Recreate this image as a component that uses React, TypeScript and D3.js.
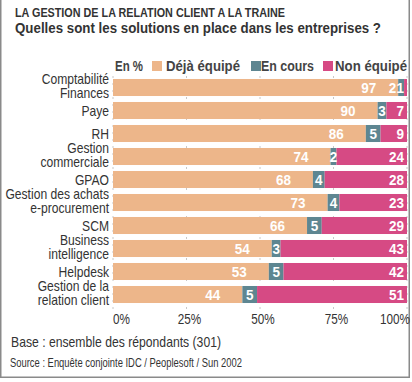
import React from "react";
import * as d3 from "d3";

const categories = [
  "Comptabilité\nFinances",
  "Paye",
  "RH",
  "Gestion\ncommerciale",
  "GPAO",
  "Gestion des achats\ne-procurement",
  "SCM",
  "Business\nintelligence",
  "Helpdesk",
  "Gestion de la\nrelation client",
];
const dejaEquipe = [97, 90, 86, 74, 68, 73, 66, 54, 53, 44];
const enCours = [2, 3, 5, 2, 4, 4, 5, 3, 5, 5];
const nonEquipe = [1, 7, 9, 24, 28, 23, 29, 43, 42, 51];
const tickValues = [0, 25, 50, 75, 100];
const seriesNames = ["Déjà équipé", "En cours", "Non équipé"];
const colors = ["#EDB68A", "#5E8691", "#D64A84"];

const FONT = "'Liberation Sans', Arial, sans-serif";
const W = 412;
const H = 382;

type TP = {
  x: number;
  y: number;
  sx?: number;
  anchor?: "start" | "middle" | "end";
  size?: number;
  bold?: boolean;
  fill?: string;
  children: React.ReactNode;
};
function T({ x, y, sx = 0.865, anchor = "start", size = 14, bold = false, fill = "#333", children }: TP) {
  return (
    <text
      transform={`translate(${x},${y}) scale(${sx},1)`}
      textAnchor={anchor}
      fontSize={size}
      fontWeight={bold ? "bold" : "normal"}
      fill={fill}
    >
      {children}
    </text>
  );
}

export default function App() {
  const x = d3.scaleLinear().domain([0, 100]).range([113, 407]);
  const y = d3
    .scaleBand<number>()
    .domain(d3.range(categories.length))
    .range([76, 306])
    .paddingInner(0.26)
    .paddingOuter(0.13);
  const bh = y.bandwidth();

  const rows = categories.map((c, i) => {
    const vals = [dejaEquipe[i], enCours[i], nonEquipe[i]];
    const segs: { x0: number; x1: number; v: number; k: number }[] = [];
    let acc = 0;
    vals.forEach((v, k) => {
      segs.push({ x0: acc, x1: acc + v, v, k });
      acc += v;
    });
    return { c, i, segs };
  });

  const legend = [
    { sx: 152, tx: 166, w: 74 },
    { sx: 251, tx: 261, w: 53 },
    { sx: 323, tx: 335, w: 72 },
  ];

  return (
    <svg
      width={W}
      height={H}
      style={{ position: "absolute", left: 0, top: 0, background: "#fff" }}
      fontFamily={FONT}
    >
      <rect x={0} y={0} width={W} height={H} fill="#fff" />
      <path d={`M0.75,0 V377.25 H409.25 V0`} fill="none" stroke="#8a8a8a" strokeWidth={1.5} />

      <text x={15} y={17} fontSize={13} fontWeight="bold" fill="#333" textLength={270} lengthAdjust="spacingAndGlyphs">
        LA GESTION DE LA RELATION CLIENT A LA TRAINE
      </text>
      <text x={15} y={33} fontSize={15} fontWeight="bold" fill="#333" textLength={366} lengthAdjust="spacingAndGlyphs">
        Quelles sont les solutions en place dans les entreprises ?
      </text>

      {/* legend */}
      <text x={115} y={71} fontSize={14} fontWeight="bold" fill="#444" textLength={28} lengthAdjust="spacingAndGlyphs">
        En %
      </text>
      {legend.map((p, k) => (
        <g key={k}>
          <rect x={p.sx} y={61} width={10} height={10} fill={colors[k]} />
          <text x={p.tx} y={71} fontSize={14} fontWeight="bold" fill="#444" textLength={p.w} lengthAdjust="spacingAndGlyphs">
            {seriesNames[k]}
          </text>
        </g>
      ))}

      {/* grid */}
      {tickValues.map((t) => (
        <line
          key={t}
          x1={x(t)}
          x2={x(t)}
          y1={76}
          y2={310}
          stroke="#c8c8c8"
          strokeDasharray="2,5"
        />
      ))}

      {rows.map((r) => {
        const yc = (y(r.i) as number) + bh / 2;
        const lines = r.c.split("\n");
        const nonW = String(nonEquipe[r.i]).length * 7.5;
        return (
          <g key={r.i}>
            {lines.map((l, j) => (
              <T key={j} x={109} y={lines.length === 1 ? yc + 5 : yc - 3.5 + j * 14} anchor="end">
                {l}
              </T>
            ))}
            {r.segs.map((s) => (
              <rect
                key={s.k}
                x={x(s.x0)}
                y={y(r.i)}
                width={x(s.x1) - x(s.x0)}
                height={bh}
                fill={colors[s.k]}
              />
            ))}
            {r.segs.map((s) => {
              let tx: number;
              let anchor: "start" | "middle" | "end" = "middle";
              if (s.k === 0) {
                tx = x(s.x1) - 22;
                anchor = "end";
              } else if (s.k === 1) {
                tx = Math.min((x(s.x0) + x(s.x1)) / 2, x(100) - 3 - nonW - 4);
              } else {
                tx = x(100) - 3;
                anchor = "end";
              }
              return (
                <T key={"t" + s.k} x={tx} y={yc + 5.5} anchor={anchor} size={15} bold sx={0.9} fill="#fff">
                  {s.v}
                </T>
              );
            })}
          </g>
        );
      })}

      {/* axis labels */}
      {tickValues.map((t, k) => (
        <T
          key={t}
          x={k === 0 ? x(t) : k === tickValues.length - 1 ? x(t) + 3 : x(t) + 3}
          y={324}
          anchor={k === 0 ? "start" : k === tickValues.length - 1 ? "end" : "middle"}
          sx={0.84}
        >
          {t}%
        </T>
      ))}

      <text x={11} y={347} fontSize={15} fill="#333" textLength={210} lengthAdjust="spacingAndGlyphs">
        Base : ensemble des répondants (301)
      </text>
      <text x={10} y={367} fontSize={12} fill="#333" textLength={232} lengthAdjust="spacingAndGlyphs">
        Source : Enquête conjointe IDC / Peoplesoft / Sun 2002
      </text>
    </svg>
  );
}
